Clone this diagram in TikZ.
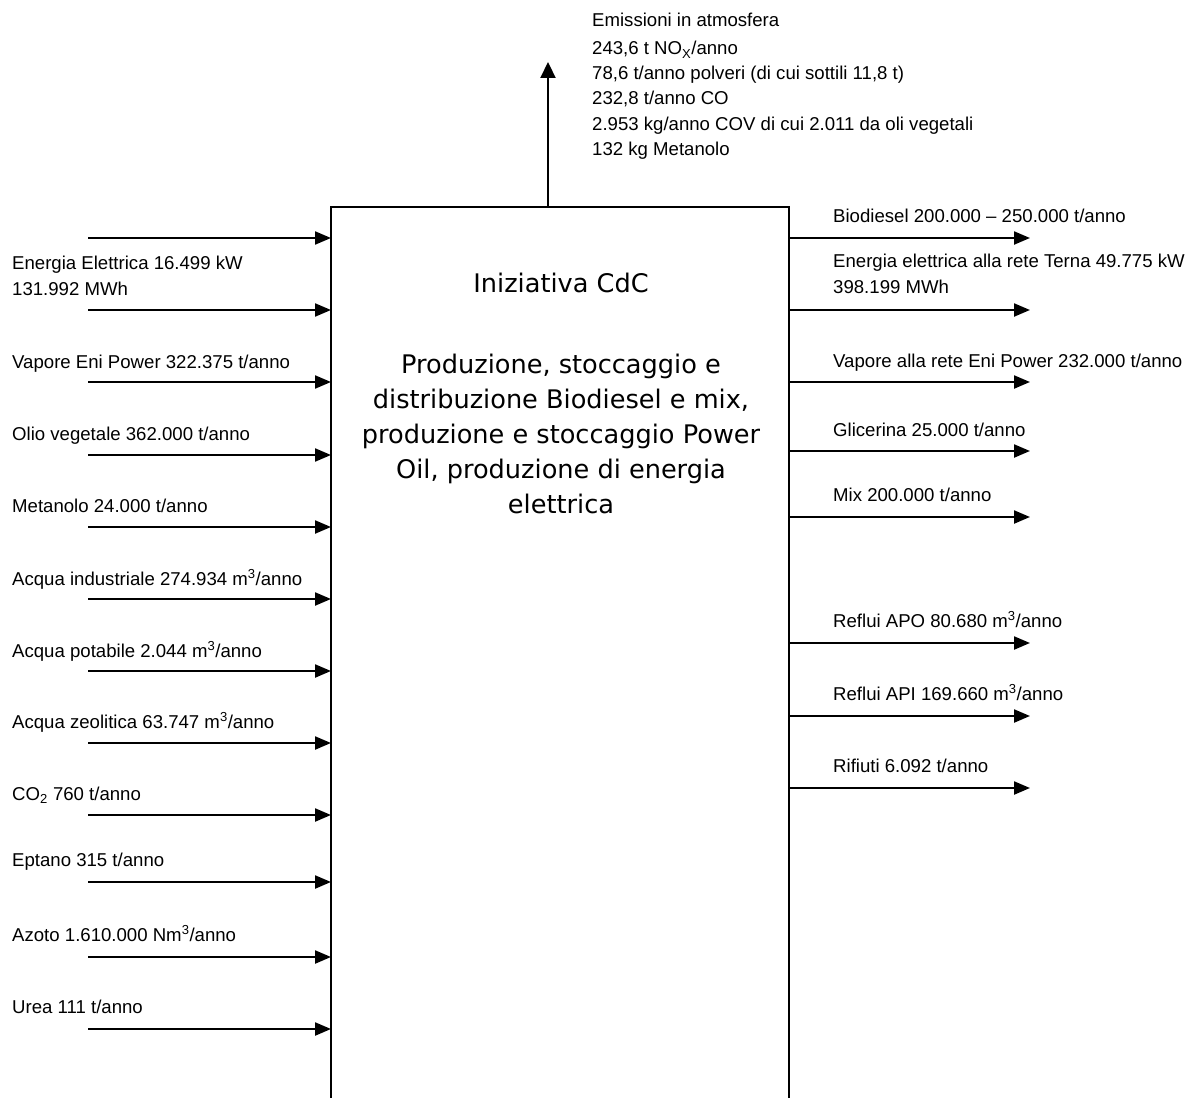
\documentclass[tikz,border=0pt]{standalone}
\usepackage{fontspec}
\setmainfont{Liberation Sans}
\newfontfamily\boxfont{DejaVu Sans}
\usetikzlibrary{arrows.meta}
\begin{document}
\begin{tikzpicture}[x=1pt,y=-1pt,
  lbl/.style={anchor=base west,inner sep=0pt,font=\fontsize{18.6}{22}\selectfont},
  ctr/.style={anchor=base,inner sep=0pt,font=\boxfont\fontsize{25.6}{34}\selectfont},
  flow/.style={line width=2.2pt,-{Triangle[length=16pt,width=13pt]}},
  upflow/.style={line width=2.2pt,-{Triangle[length=16pt,width=15pt]}},
  frame/.style={line width=2.2pt}]
\useasboundingbox[fill=white] (0,0) rectangle (1201,1097);
% process box (open at the bottom)
\coordinate (bl) at (331,1100);
\coordinate (tl) at (331,207);
\coordinate (tr) at (789,207);
\coordinate (br) at (789,1100);
\draw[frame] (bl) -- (tl) -- (tr) -- (br);
% centre text
\node[ctr] (title) at (561,292) {Iniziativa CdC};
\node[ctr] (d1) at (561,373) {Produzione, stoccaggio e};
\node[ctr] (d2) at (561,408) {distribuzione Biodiesel e mix,};
\node[ctr] (d3) at (561,443) {produzione e stoccaggio Power};
\node[ctr] (d4) at (561,478) {Oil, produzione di energia};
\node[ctr] (d5) at (561,513) {elettrica};
% emissions
\coordinate (emisS) at (548,207);
\coordinate (emisE) at (548,62);
\draw[upflow] (emisS) -- (emisE);
\node[lbl] (e0) at (592,27) {Emissioni in atmosfera};
\node[lbl] (e1) at (592,55) {243,6 t NO\textsubscript{X}/anno};
\node[lbl] (e2) at (592,80) {78,6 t/anno polveri (di cui sottili 11,8 t)};
\node[lbl] (e3) at (592,105) {232,8 t/anno CO};
\node[lbl] (e4) at (592,130) {2.953 kg/anno COV di cui 2.011 da oli vegetali};
\node[lbl] (e5) at (592,155) {132 kg Metanolo};
% input arrows
\foreach \y [count=\i] in {238,310,382,455,527,599,671,743,815,882,957,1029}{
  \coordinate (inS\i) at (88,\y);
  \coordinate (inE\i) at (331,\y);
  \draw[flow] (inS\i) -- (inE\i);
}
\node[lbl] (l1a) at (12,269) {Energia Elettrica 16.499 kW};
\node[lbl] (l1b) at (12,295) {131.992 MWh};
\node[lbl] (l2) at (12,368) {Vapore Eni Power 322.375 t/anno};
\node[lbl] (l3) at (12,440) {Olio vegetale 362.000 t/anno};
\node[lbl] (l4) at (12,512) {Metanolo 24.000 t/anno};
\node[lbl] (l5) at (12,585) {Acqua industriale 274.934 m\textsuperscript{3}/anno};
\node[lbl] (l6) at (12,657) {Acqua potabile 2.044 m\textsuperscript{3}/anno};
\node[lbl] (l7) at (12,728) {Acqua zeolitica 63.747 m\textsuperscript{3}/anno};
\node[lbl] (l8) at (12,800) {CO\textsubscript{2} 760 t/anno};
\node[lbl] (l9) at (12,866) {Eptano 315 t/anno};
\node[lbl] (l10) at (12,941) {Azoto 1.610.000 Nm\textsuperscript{3}/anno};
\node[lbl] (l11) at (12,1013) {Urea 111 t/anno};
% output arrows
\foreach \y [count=\i] in {238,310,382,451,517,643,716,788}{
  \coordinate (outS\i) at (789,\y);
  \coordinate (outE\i) at (1030,\y);
  \draw[flow] (outS\i) -- (outE\i);
}
\node[lbl] (r1) at (833,222) {Biodiesel 200.000 – 250.000 t/anno};
\node[lbl] (r2a) at (833,267) {Energia elettrica alla rete Terna 49.775 kW};
\node[lbl] (r2b) at (833,293) {398.199 MWh};
\node[lbl] (r3) at (833,367) {Vapore alla rete Eni Power 232.000 t/anno};
\node[lbl] (r4) at (833,436) {Glicerina 25.000 t/anno};
\node[lbl] (r5) at (833,501) {Mix 200.000 t/anno};
\node[lbl] (r6) at (833,627) {Reflui APO 80.680 m\textsuperscript{3}/anno};
\node[lbl] (r7) at (833,700) {Reflui API 169.660 m\textsuperscript{3}/anno};
\node[lbl] (r8) at (833,772) {Rifiuti 6.092 t/anno};
\end{tikzpicture}
\end{document}
